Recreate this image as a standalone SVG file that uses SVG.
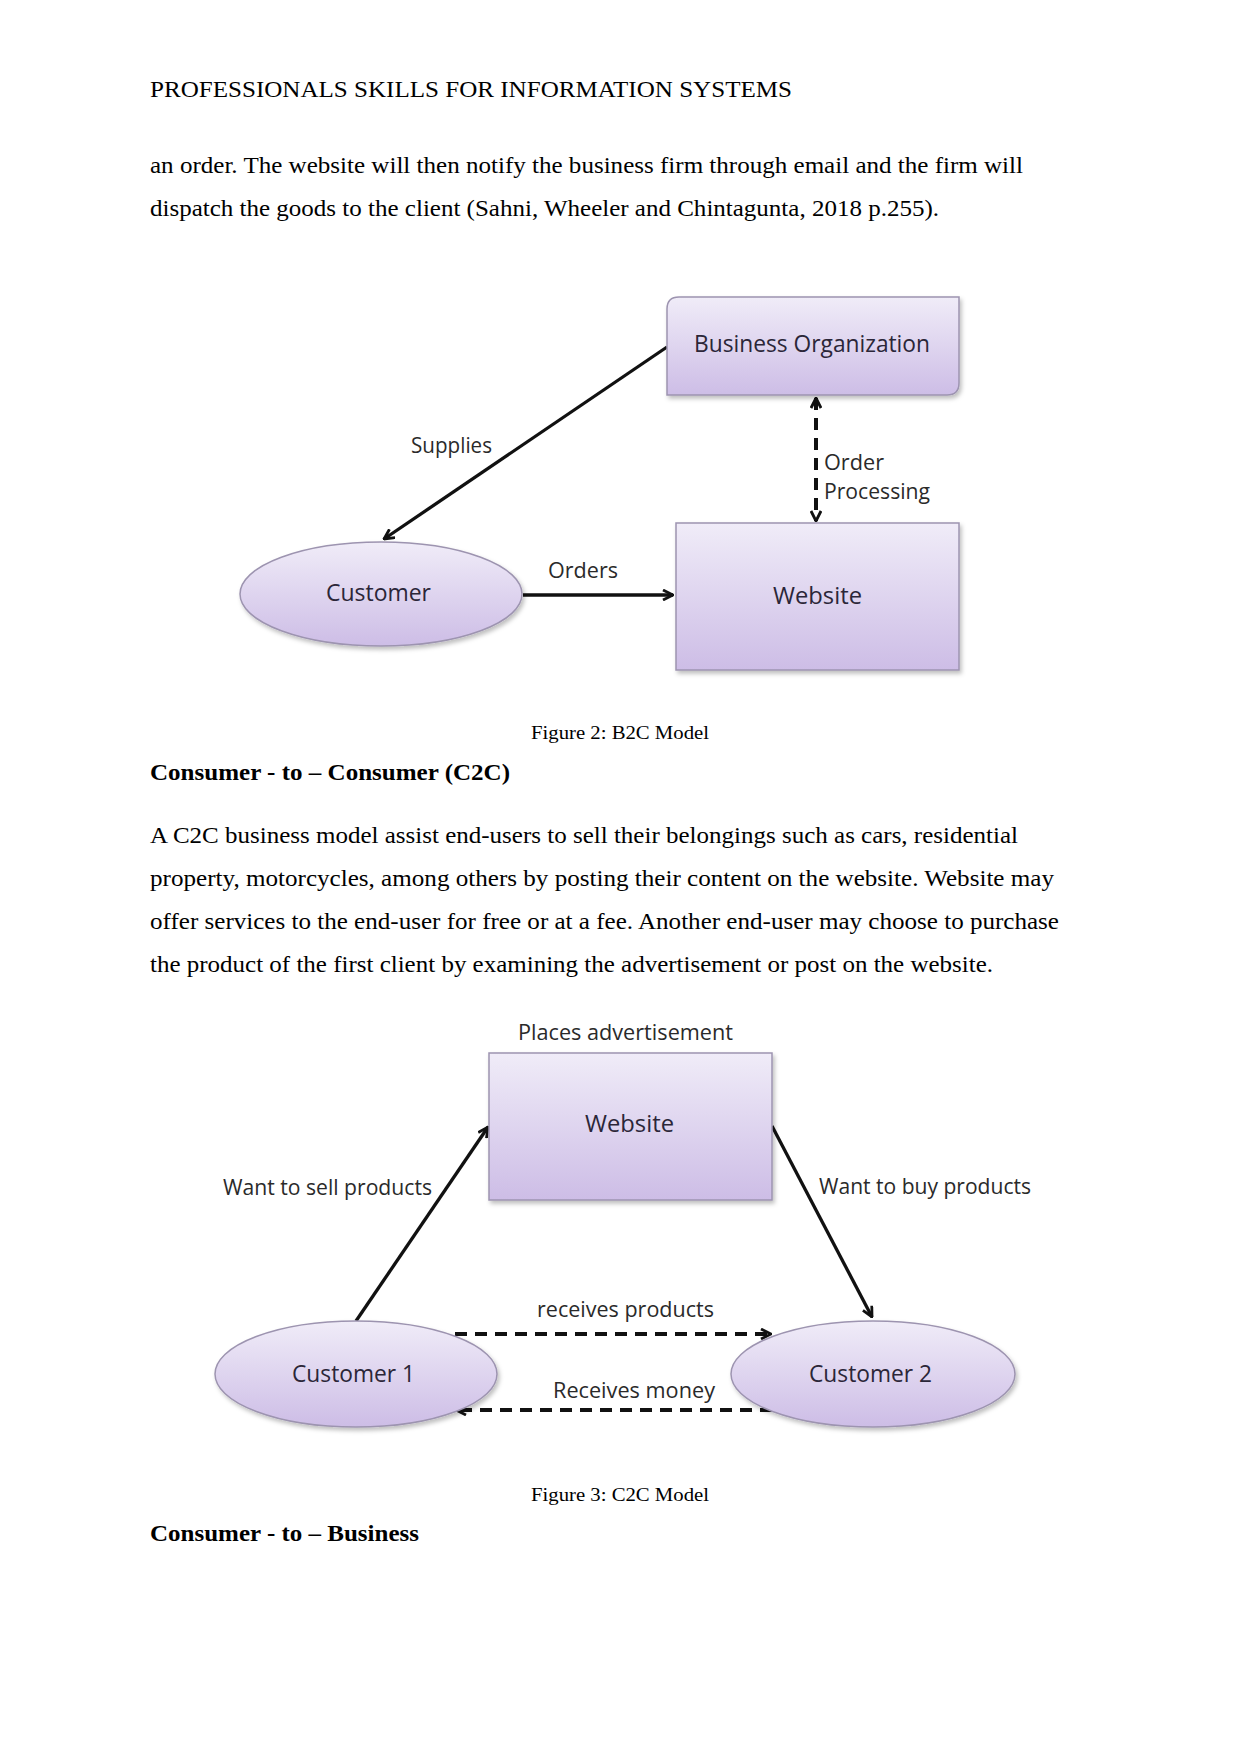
<svg xmlns="http://www.w3.org/2000/svg" width="1241" height="1754" viewBox="0 0 1241 1754">
<style>
.body{font-family:"Liberation Serif",serif;font-size:23px;fill:#000}
.bold{font-weight:bold}
.cap{font-family:"Liberation Serif",serif;font-size:18px;fill:#000}
.lbl{font-family:"Open Sans","Liberation Sans",sans-serif;font-size:21px;fill:#2a2a2a}
.nt{font-family:"Open Sans","Liberation Sans",sans-serif;font-size:23px;fill:#2b2638}
.shape{fill:url(#g);stroke:#9d94b0;stroke-width:1.5}
.ln{stroke:#111;stroke-width:3.3;fill:none}
.dash{stroke:#111;stroke-width:4;fill:none;stroke-dasharray:12 8}
</style>
<defs>
<linearGradient id="g" x1="0" y1="0" x2="0" y2="1">
<stop offset="0" stop-color="#f0ecf8"/>
<stop offset="1" stop-color="#cdbde6"/>
</linearGradient>
<filter id="sh" x="-10%" y="-10%" width="130%" height="130%">
<feDropShadow dx="2" dy="3" stdDeviation="2" flood-color="#000" flood-opacity="0.25"/>
</filter>
<marker id="ah" viewBox="0 0 12 12" refX="11" refY="6" markerWidth="12" markerHeight="12" markerUnits="userSpaceOnUse" orient="auto-start-reverse">
<path d="M1,1 L11,6 L1,11" fill="none" stroke="#111" stroke-width="2.8"/>
</marker>
</defs>
<rect width="1241" height="1754" fill="#fff"/>

<text class="body" x="150" y="97" textLength="642" lengthAdjust="spacingAndGlyphs">PROFESSIONALS SKILLS FOR INFORMATION SYSTEMS</text>
<text class="body" x="150" y="173" textLength="873" lengthAdjust="spacingAndGlyphs">an order. The website will then notify the business firm through email and the firm will</text>
<text class="body" x="150" y="216" textLength="789" lengthAdjust="spacingAndGlyphs">dispatch the goods to the client (Sahni, Wheeler and Chintagunta, 2018 p.255).</text>

<!-- Figure 2 -->
<g id="connectors-b2c">
<line class="ln" x1="667" y1="347" x2="384" y2="539" marker-end="url(#ah)"/>
<line class="ln" x1="523" y1="595" x2="673" y2="595" marker-end="url(#ah)"/>
<line class="dash" x1="816" y1="398" x2="816" y2="521" marker-start="url(#ah)" marker-end="url(#ah)"/>
<text class="lbl" x="411" y="453" textLength="81" lengthAdjust="spacingAndGlyphs">Supplies</text>
<text class="lbl" x="548" y="578" textLength="70" lengthAdjust="spacingAndGlyphs">Orders</text>
<text class="lbl" x="824" y="470" textLength="60" lengthAdjust="spacingAndGlyphs">Order</text>
<text class="lbl" x="824" y="499" textLength="106" lengthAdjust="spacingAndGlyphs">Processing</text>
</g>
<g id="business-organization">
<path class="shape" filter="url(#sh)" d="M679,297 H959 V383 Q959,395 947,395 H667 V309 Q667,297 679,297 Z"/>
<text class="nt" x="694" y="352" textLength="236" lengthAdjust="spacingAndGlyphs">Business Organization</text>
</g>
<g id="website-b2c">
<rect class="shape" filter="url(#sh)" x="676" y="523" width="283" height="147"/>
<text class="nt" x="773" y="604" textLength="89" lengthAdjust="spacingAndGlyphs">Website</text>
</g>
<g id="customer">
<ellipse class="shape" filter="url(#sh)" cx="381" cy="594" rx="141" ry="52"/>
<text class="nt" x="326" y="601" textLength="105" lengthAdjust="spacingAndGlyphs">Customer</text>
</g>

<text class="cap" x="531" y="739" textLength="178" lengthAdjust="spacingAndGlyphs">Figure 2: B2C Model</text>
<text class="body bold" x="150" y="780" textLength="360" lengthAdjust="spacingAndGlyphs">Consumer - to – Consumer (C2C)</text>
<text class="body" x="150" y="843" textLength="868" lengthAdjust="spacingAndGlyphs">A C2C business model assist end-users to sell their belongings such as cars, residential</text>
<text class="body" x="150" y="886" textLength="904" lengthAdjust="spacingAndGlyphs">property, motorcycles, among others by posting their content on the website. Website may</text>
<text class="body" x="150" y="929" textLength="909" lengthAdjust="spacingAndGlyphs">offer services to the end-user for free or at a fee. Another end-user may choose to purchase</text>
<text class="body" x="150" y="972" textLength="843" lengthAdjust="spacingAndGlyphs">the product of the first client by examining the advertisement or post on the website.</text>

<!-- Figure 3 -->
<g id="connectors-c2c">
<line class="ln" x1="356" y1="1321" x2="488" y2="1127" marker-end="url(#ah)"/>
<line class="ln" x1="772" y1="1126" x2="872" y2="1317" marker-end="url(#ah)"/>
<line class="dash" x1="455" y1="1334" x2="771" y2="1334" marker-end="url(#ah)"/>
<line class="dash" x1="772" y1="1410" x2="456" y2="1410" marker-end="url(#ah)"/>
<text class="lbl" x="518" y="1040" textLength="215" lengthAdjust="spacingAndGlyphs">Places advertisement</text>
<text class="lbl" x="223" y="1195" textLength="209" lengthAdjust="spacingAndGlyphs">Want to sell products</text>
<text class="lbl" x="819" y="1194" textLength="212" lengthAdjust="spacingAndGlyphs">Want to buy products</text>
<text class="lbl" x="537" y="1317" textLength="177" lengthAdjust="spacingAndGlyphs">receives products</text>
<text class="lbl" x="553" y="1398" textLength="162" lengthAdjust="spacingAndGlyphs">Receives money</text>
</g>
<g id="website-c2c">
<rect class="shape" filter="url(#sh)" x="489" y="1053" width="283" height="147"/>
<text class="nt" x="585" y="1132" textLength="89" lengthAdjust="spacingAndGlyphs">Website</text>
</g>
<g id="customer-1">
<ellipse class="shape" filter="url(#sh)" cx="356" cy="1374" rx="141" ry="53"/>
<text class="nt" x="292" y="1382" textLength="123" lengthAdjust="spacingAndGlyphs">Customer 1</text>
</g>
<g id="customer-2">
<ellipse class="shape" filter="url(#sh)" cx="873" cy="1374" rx="142" ry="53"/>
<text class="nt" x="809" y="1382" textLength="123" lengthAdjust="spacingAndGlyphs">Customer 2</text>
</g>

<text class="cap" x="531" y="1501" textLength="178" lengthAdjust="spacingAndGlyphs">Figure 3: C2C Model</text>
<text class="body bold" x="150" y="1541" textLength="269" lengthAdjust="spacingAndGlyphs">Consumer - to – Business</text>
</svg>
